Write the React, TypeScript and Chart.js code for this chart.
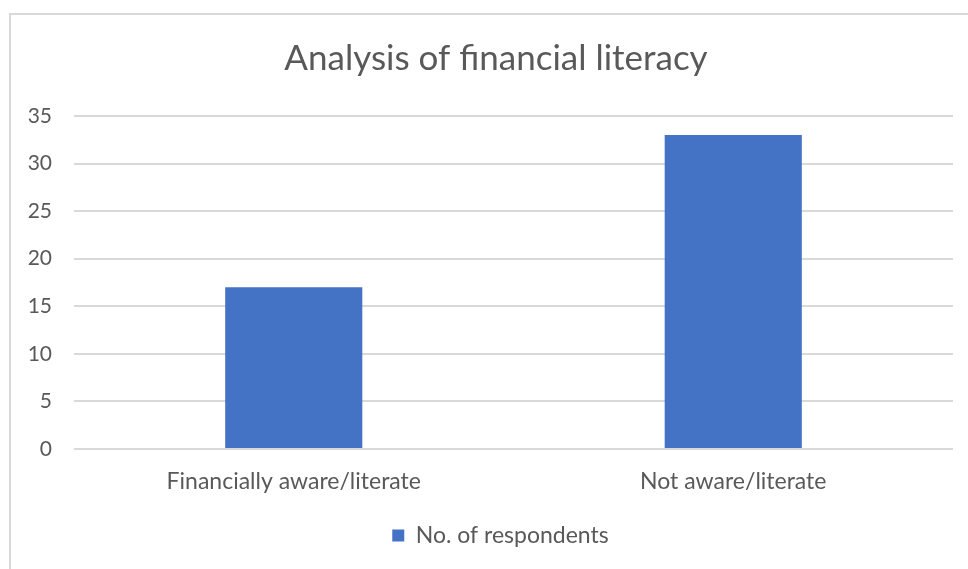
import React, { useEffect, useRef } from "react";
import { Chart, registerables } from "chart.js";

Chart.register(...registerables);

const categories = ["Financially aware/literate", "Not aware/literate"];
const respondents = [17, 33];
const seriesLabel = "No. of respondents";
const titleText = "Analysis of financial literacy";

const FONT = "Lato, 'Open Sans', sans-serif";

const framePlugin = {
  id: "frame",
  afterLayout(chart: any) {
    // centre the title and the legend over the outer frame, as in the original
    if (chart.titleBlock) {
      chart.titleBlock.left = 24;
      chart.titleBlock.right = 968;
    }
    if (chart.legend) {
      chart.legend.left = 33;
      chart.legend.right = 968;
    }
  },
  beforeDraw(chart: any) {
    const ctx = chart.ctx;
    ctx.save();
    ctx.fillStyle = "#ffffff";
    ctx.fillRect(0, 0, chart.width, chart.height);
    ctx.strokeStyle = "#d9d9d9";
    ctx.lineWidth = 2;
    ctx.strokeRect(10, 14, chart.width + 20, chart.height + 20);
    ctx.restore();
  },
};

export default function App() {
  const ref = useRef<HTMLCanvasElement | null>(null);
  useEffect(() => {
    if (!ref.current) return;
    const chart = new Chart(ref.current, {
      type: "bar",
      data: {
        labels: categories,
        datasets: [
          {
            label: seriesLabel,
            data: respondents,
            backgroundColor: "#4472c4",
            borderWidth: 0,
            barPercentage: 0.312,
            categoryPercentage: 1,
          },
        ],
      },
      plugins: [framePlugin],
      options: {
        responsive: false,
        animation: false,
        maintainAspectRatio: false,
        layout: { padding: { left: 0, right: 15, top: 38, bottom: 12 } },
        plugins: {
          title: {
            display: true,
            text: titleText,
            color: "#595959",
            font: { family: FONT, size: 35, weight: "normal" },
            padding: { top: 0, bottom: 36 },
          },
          legend: {
            position: "bottom",
            labels: {
              color: "#595959",
              font: { family: FONT, size: 23 },
              boxWidth: 12,
              boxHeight: 12,
              padding: 10,
            },
          },
          tooltip: { enabled: false },
        },
        scales: {
          x: {
            afterFit: (s: any) => {
              s.height = 65;
            },
            grid: { display: false, drawTicks: false },
            border: { display: false },
            ticks: {
              color: "#595959",
              font: { family: FONT, size: 23 },
              padding: 19,
            },
          },
          y: {
            min: 0,
            max: 35,
            afterFit: (s: any) => {
              s.width = 74;
            },
            grid: { color: "#d9d9d9", lineWidth: 2, drawTicks: false },
            border: { display: false },
            ticks: {
              stepSize: 5,
              color: "#595959",
              font: { family: FONT, size: 21 },
              padding: 22,
            },
          },
        },
      },
    });
    return () => chart.destroy();
  }, []);
  return (
    <div style={{ position: "fixed", left: 0, top: 0, width: 968, height: 569 }}>
      <canvas ref={ref} width={968} height={569} style={{ width: 968, height: 569 }} />
    </div>
  );
}
